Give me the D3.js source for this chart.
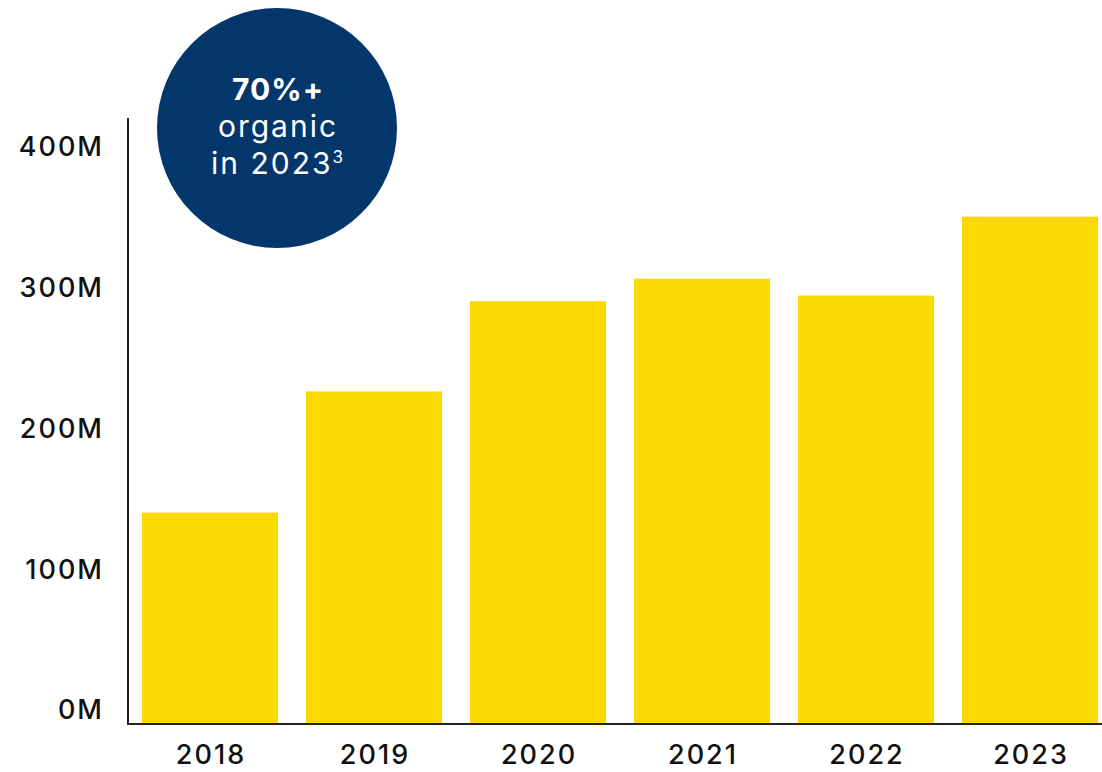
<!DOCTYPE html>
<html>
<head>
<meta charset="utf-8">
<script src="https://cdn.jsdelivr.net/npm/d3@7"></script>
<style>
  body { margin: 0; background: #fff; }
  svg text { font-family: Inter, "Noto Sans", sans-serif; }
</style>
</head>
<body>
<svg width="1102" height="772"></svg>
<script>
const years = ["2018", "2019", "2020", "2021", "2022", "2023"];
const values = [150, 236, 300, 316, 304, 360]; // millions
const yTicks = [0, 100, 200, 300, 400];
const badgeLines = ["70%+", "organic", "in 2023"];

function drawBars() {
  let svg = d3.select("svg"),
    left = 128,
    right = 1112,
    bottom = 724,
    top = 118;

  let x = d3.scaleBand()
    .domain(years)
    .range([left, right])
    .paddingInner(0.17)
    .paddingOuter(0.085);
  let y = d3.scaleLinear()
    .domain([0, 430])
    .range([bottom, top]);

  svg.append("g")
    .selectAll("rect")
    .data(values)
    .enter().append("rect")
    .attr("x", (d, i) => x(years[i]))
    .attr("y", (d) => y(d))
    .attr("width", x.bandwidth())
    .attr("height", (d) => bottom - y(d))
    .style("fill", "#fcd900");

  // axis lines
  svg.append("line")
    .attr("x1", left).attr("x2", left)
    .attr("y1", top).attr("y2", bottom + 1)
    .style("stroke", "#222").style("stroke-width", 2);
  svg.append("line")
    .attr("x1", left - 1).attr("x2", 1102)
    .attr("y1", bottom).attr("y2", bottom)
    .style("stroke", "#222").style("stroke-width", 2);

  svg.append("g")
    .selectAll("text")
    .data(yTicks)
    .enter().append("text")
    .attr("x", 104)
    .attr("y", (d) => y(d) - 14)
    .attr("dy", ".35em")
    .attr("text-anchor", "end")
    .style("font-size", "27px")
    .style("font-weight", 500)
    .style("letter-spacing", "2px")
    .style("fill", "#111")
    .text((d) => d + "M");

  svg.append("g")
    .selectAll("text")
    .data(years)
    .enter().append("text")
    .attr("x", (d) => x(d) + x.bandwidth() / 2 + 1)
    .attr("y", 755)
    .attr("dy", ".35em")
    .attr("text-anchor", "middle")
    .style("font-size", "27px")
    .style("font-weight", 500)
    .style("letter-spacing", "2px")
    .style("fill", "#111")
    .text((d) => d);

  // badge
  let badge = svg.append("g").attr("transform", "translate(277,128)");
  badge.append("circle")
    .attr("r", 120)
    .style("fill", "#03366b");
  let label = badge.append("g")
    .selectAll("text")
    .data(badgeLines)
    .enter().append("text")
    .attr("x", 1)
    .attr("y", (d, i) => -28 + i * 37)
    .attr("text-anchor", "middle")
    .style("font-size", "30px")
    .style("letter-spacing", (d, i) => i === 0 ? "1px" : "2px")
    .style("font-weight", (d, i) => i === 0 ? 700 : 400)
    .style("fill", "#fff")
    .text((d) => d);
  label.filter((d, i) => i === 2)
    .append("tspan")
    .attr("dy", -11)
    .style("font-size", "17px")
    .text("3");
}

drawBars();
</script>
</body>
</html>
